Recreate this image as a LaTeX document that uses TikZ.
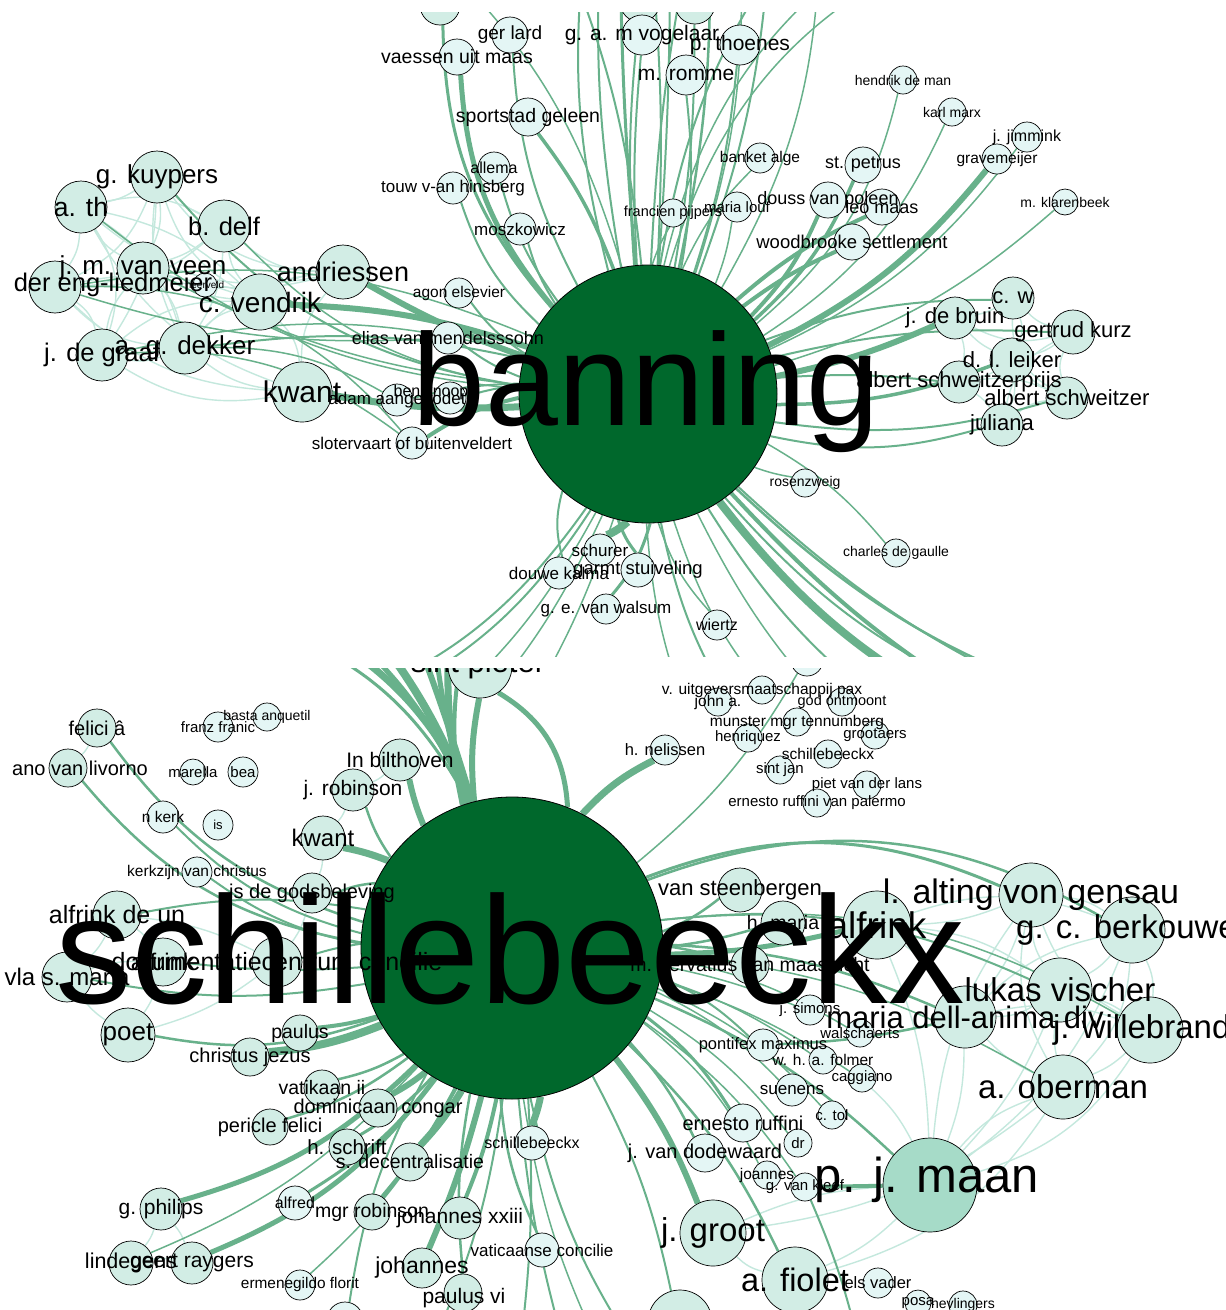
\documentclass[tikz,border=0pt]{standalone}
\usepackage{fontspec}
\setmainfont{Liberation Sans}
\pgfdeclarelayer{edges}
\pgfdeclarelayer{labels}
\pgfsetlayers{edges,main,labels}
\definecolor{hubgreen}{RGB}{0,104,44}
\definecolor{egreen}{RGB}{104,177,139}
\definecolor{lmint}{RGB}{196,232,221}
\definecolor{nA}{RGB}{210,237,229}
\definecolor{nB}{RGB}{228,246,245}
\definecolor{nM}{RGB}{166,219,200}
\makeatletter
\def\lbllist{}
\newcommand\addlbl[1]{\g@addto@macro\lbllist{#1}}
\makeatother
\tikzset{
  vtx/.style={circle,draw=black,line width=0.7pt,inner sep=0pt},
  hub/.style={circle,draw=black,line width=0.8pt,fill=hubgreen,inner sep=0pt},
  lbl/.style={inner sep=0pt,text=black},
  eg/.style={draw=egreen},
  lm/.style={draw=lmint,line width=1.4pt},
}
% name x y r fill fontsize text
\newcommand\V[7]{\node[vtx,fill=#5,minimum size=#4pt*2] (#1) at (#2,#3) {};%
  \addlbl{\node[lbl,font=\fontsize{#6}{#6}\selectfont] (#1-l) at (#1) {#7};}}
% same, label at explicit position
\newcommand\W[9]{\node[vtx,fill=#5,minimum size=#4pt*2] (#1) at (#2,#3) {};%
  \addlbl{\node[lbl,font=\fontsize{#6}{#6}\selectfont] (#1-l) at (#8,#9) {#7};}}
\begin{document}
\begin{tikzpicture}[x=1pt,y=-1pt]
\useasboundingbox (0,0) rectangle (1226,1310);
\begin{pgfonlayer}{edges}
\fill[white] (0,0) rectangle (1226,1310);
\end{pgfonlayer}
%%%%%%%%%%%%%%%%%%%%%%%% TOP PANEL
\begin{scope}
\clip (0,12) rectangle (1226,656);
\node[hub,minimum size=258pt] (B) at (648,394) {};
\V{t1}{440}{5}{20}{nA}{18}{}
\V{t2}{640}{2}{20}{nA}{18}{}
\V{t3}{695}{4}{20}{nA}{18}{}
\V{gerlard}{510}{35}{18}{nB}{19}{ger lard}
\V{vogelaar}{642}{35}{20}{nB}{21}{g. a. m vogelaar}
\V{thoenes}{740}{45}{20}{nB}{21}{p. thoenes}
\V{romme}{686}{75}{20}{nB}{21}{m. romme}
\V{vaessen}{457}{57}{18}{nB}{19.5}{vaessen uit maas}
\V{sportstad}{528}{117}{19}{nB}{19.5}{sportstad geleen}
\V{allema}{494}{168}{16}{nB}{16}{allema}
\V{touw}{453}{188}{16}{nB}{17}{touw v-an hinsberg}
\V{moszk}{520}{229}{16}{nB}{17}{moszkowicz}
\V{agon}{459}{293}{15}{nB}{15.5}{agon elsevier}
\V{banket}{760}{158}{15}{nB}{15.5}{banket alge}
\V{francien}{673}{213}{14}{nB}{14.5}{francien pijpers}
\V{marialouf}{737}{207}{15}{nB}{15}{maria louf}
\V{douss}{828}{200}{18}{nB}{18}{douss van poleen}
\V{leomaas}{882}{207}{18}{nB}{18}{leo maas}
\V{petrus}{863}{165}{18}{nB}{18}{st. petrus}
\V{hendrik}{903}{80}{14}{nB}{14}{hendrik de man}
\V{marx}{952}{112}{14}{nB}{14}{karl marx}
\V{jimmink}{1027}{137}{15}{nB}{16}{j. jimmink}
\V{gravem}{997}{159}{15}{nB}{15.5}{gravemeijer}
\V{klaren}{1065}{202}{13}{nB}{14}{m. klarenbeek}
\V{woodb}{852}{242}{18}{nB}{18.5}{woodbrooke settlement}
\V{cw}{1013}{298}{21}{nA}{22}{c. w}
\V{debruin}{955}{318}{21}{nA}{22}{j. de bruin}
\V{kurz}{1073}{332}{22}{nA}{22}{gertrud kurz}
\V{leiker}{1012}{360}{22}{nA}{22}{d. l. leiker}
\V{prijs}{959}{382}{21}{nA}{22}{albert schweitzerprijs}
\V{schweitzer}{1067}{398}{21}{nA}{22}{albert schweitzer}
\V{juliana}{1002}{425}{21}{nA}{22}{juliana}
\V{rosenzweig}{805}{483}{14}{nB}{14}{rosenzweig}
\V{gaulle}{896}{553}{14}{nB}{14}{charles de gaulle}
\V{schurer}{600}{550}{16}{nB}{17}{schurer}
\V{douwe}{559}{573}{16}{nB}{17}{douwe kalma}
\V{garmt}{638}{570}{17}{nB}{18.5}{garmt stuiveling}
\V{walsum}{606}{609}{15}{nB}{17}{g. e. van walsum}
\V{wiertz}{717}{625}{15}{nB}{16}{wiertz}
\V{elias}{448}{338}{16}{nB}{18}{elias van mendelsssohn}
\W{knoops}{450}{398}{16}{nB}{16}{ben knoops}{435}{392}
\V{adam}{397}{400}{16}{nB}{17}{adam aangebodet}
\V{sloter}{412}{443}{16}{nB}{17}{slotervaart of buitenveldert}
\V{kwant}{302}{392}{30}{nA}{30}{kwant}
\V{dekker}{185}{348}{26}{nA}{26}{a. g. dekker}
\V{degraaf}{102}{355}{26}{nA}{25.5}{j. de graaf}
\W{engl}{55}{287}{26}{nA}{25.5}{der eng-liedmeier}{113}{285}
\V{jmveen}{143}{268}{26}{nA}{26}{j. m. van veen}
\V{veld}{205}{285}{12}{nB}{10}{heerveld}
\V{vendrik}{260}{302}{28}{nA}{28}{c. vendrik}
\V{andriessen}{343}{272}{27}{nA}{27}{andriessen}
\V{bdelf}{224}{226}{26}{nA}{25.5}{b. delf}
\V{ath}{81}{207}{26}{nA}{26.5}{a. th}
\V{kuypers}{157}{177}{26}{nA}{26}{g. kuypers}
\addlbl{\node[lbl,font=\fontsize{131}{131}\selectfont,anchor=base] (B-l) at (646,425) {banning};}
% off-panel ends
\coordinate (ot1) at (560,-60); \coordinate (ot2) at (600,-60); \coordinate (ot3) at (650,-60);
\coordinate (ot4) at (690,-60); \coordinate (ot5) at (740,-60); \coordinate (ot6) at (790,-60);
\coordinate (ot7) at (880,-60); \coordinate (ot8) at (960,-60); \coordinate (ot9) at (420,-60);
\coordinate (ot10) at (620,-60); \coordinate (ot11) at (670,-60); \coordinate (ot12) at (710,-60);
\coordinate (ot13) at (770,-60); \coordinate (ot14) at (820,-60); \coordinate (ot15) at (585,-60);
\coordinate (ob1) at (280,720); \coordinate (ob2) at (330,720); \coordinate (ob3) at (430,720);
\coordinate (ob4) at (470,720); \coordinate (ob5) at (520,720); \coordinate (ob6) at (690,720);
\coordinate (ob7) at (740,720); \coordinate (ob8) at (790,720); \coordinate (ob9) at (840,720);
\coordinate (ob10) at (900,720); \coordinate (ob11) at (980,720); \coordinate (ob12) at (1010,720);
\coordinate (ob13) at (1060,720); \coordinate (ob14) at (1100,720); \coordinate (ob15) at (1150,720);
\end{scope}
\begin{pgfonlayer}{edges}
\begin{scope}
\clip (0,12) rectangle (1226,656);
\foreach \p/\q/\b in {kuypers/ath/10,kuypers/bdelf/-10,kuypers/jmveen/15,kuypers/engl/20,kuypers/degraaf/15,
  kuypers/dekker/-15,kuypers/vendrik/-20,ath/jmveen/-15,ath/engl/15,ath/bdelf/20,ath/degraaf/25,ath/dekker/20,
  ath/vendrik/15,ath/kwant/-20,bdelf/jmveen/10,bdelf/vendrik/-15,bdelf/andriessen/-20,bdelf/engl/20,bdelf/dekker/15,
  jmveen/engl/10,jmveen/degraaf/-15,jmveen/dekker/15,jmveen/vendrik/-10,jmveen/andriessen/-15,engl/degraaf/20,
  engl/dekker/-20,engl/vendrik/15,engl/kwant/-20,degraaf/dekker/-15,degraaf/kwant/-20,degraaf/vendrik/20,
  dekker/kwant/-15,dekker/vendrik/15,dekker/andriessen/20,vendrik/andriessen/15,vendrik/kwant/20,andriessen/kwant/-20,
  veld/jmveen/10,veld/vendrik/10,kuypers/andriessen/-25,ath/andriessen/-25,
  cw/debruin/10,cw/kurz/-15,cw/leiker/20,cw/schweitzer/-30,kurz/leiker/10,kurz/schweitzer/-20,kurz/juliana/-25,
  leiker/prijs/10,leiker/juliana/15,leiker/schweitzer/-10,prijs/schweitzer/15,prijs/juliana/10,schweitzer/juliana/-15,
  debruin/leiker/-10,debruin/kurz/-20,debruin/prijs/15}
  {\draw[lm] (\p) to[bend left=\b] (\q);}
\foreach \n/\w/\b in {t1/3/20,t2/2/5,t3/2/-5,vaessen/5/18,gerlard/2/12,vogelaar/2/4,thoenes/2/-6,romme/2/-8,
  sportstad/3.5/-8,allema/2/10,touw/2/14,moszk/2/8,agon/2/10,banket/1.5/10,francien/1.5/6,marialouf/1.5/-6,
  douss/4/-10,leomaas/4/8,petrus/3.5/-12,woodb/4/6,gravem/6/-12,jimmink/1.5/-14,marx/1.5/-16,hendrik/1.5/-18,
  klaren/1.5/-12,cw/2/10,debruin/6/-6,kurz/2/8,leiker/3.5/-10,prijs/2/5,schweitzer/2/-12,juliana/2/-14,
  rosenzweig/1.5/-5,gaulle/1.5/10,schurer/8/8,douwe/2/-15,garmt/3/-10,walsum/3/12,wiertz/1.5/-12,
  elias/2/8,knoops/2/-5,adam/2/-6,sloter/4/-10,kwant/7/6,andriessen/6/5,vendrik/6/-8,bdelf/1.5/18,
  kuypers/2/20,dekker/2/-10,degraaf/1.5/-14,ath/1.5/16,engl/1.5/-16,jmveen/1.5/10,
  ot1/2/-8,ot2/2/6,ot3/2/-4,ot4/2/4,ot5/1.5/-10,ot6/2/12,ot7/1.5/20,ot8/1.5/25,ot9/1.5/-15,
  ot10/3/2,ot11/2/-2,ot12/2.5/-6,ot13/2/-8,ot14/1.5/-14,ot15/2/10,
  ob1/2/20,ob2/2/18,ob3/1.5/10,ob4/1.5/8,ob5/1.5/6,ob6/1.5/-8,ob7/2/-10,ob8/1.5/-12,ob9/1.5/-8,
  ob10/2/-10,ob11/8/-12,ob12/4/-8,ob13/2/-15,ob14/2/-10,ob15/2.5/-14}
  {\draw[eg,line width=\w*1pt] (B) to[bend left=\b] (\n);}
\foreach \p/\q/\b in {degraaf/sloter/20,engl/sloter/25,dekker/adam/15,engl/elias/-10}
  {\draw[eg,line width=1.5pt] (\p) to[bend left=\b] (\q);}
\end{scope}
\end{pgfonlayer}
\begin{pgfonlayer}{labels}
\begin{scope}
\clip (0,12) rectangle (1226,656);
\lbllist
\end{scope}
\end{pgfonlayer}
\gdef\lbllist{}
%%%%%%%%%%%%%%%%%%%%%%%% BOTTOM PANEL
\begin{scope}
\clip (0,668) rectangle (1226,1310);
\node[hub,minimum size=302pt] (S) at (512,948) {};
\W{spieter}{480}{666}{32}{nA}{31}{sint pieter}{478}{664}
\V{tr1}{807}{660}{16}{nB}{15}{}
\V{pax}{762}{690}{14}{nB}{15.5}{v. uitgeversmaatschappij pax}
\V{johna}{718}{702}{14}{nB}{15.5}{john a.}
\V{god}{842}{702}{14}{nB}{14.5}{god ontmoont}
\V{munster}{797}{722}{14}{nB}{15.5}{munster mgr tennumberg}
\V{henriquez}{748}{738}{14}{nB}{15}{henriquez}
\V{grootaers}{875}{735}{14}{nB}{15}{grootaers}
\V{schsma}{828}{754}{14}{nB}{15.5}{schillebeeckx}
\V{sintjan}{780}{770}{14}{nB}{15}{sint jan}
\V{piet}{867}{785}{14}{nB}{15}{piet van der lans}
\V{ruffpal}{817}{803}{14}{nB}{15}{ernesto ruffini van palermo}
\V{nelissen}{665}{750}{15}{nB}{16.5}{h. nelissen}
\V{bilthoven}{400}{760}{21}{nA}{21}{In bilthoven}
\V{jrobinson}{353}{790}{21}{nA}{21}{j. robinson}
\V{kwantb}{323}{838}{22}{nA}{24}{kwant}
\V{gods}{312}{893}{20}{nA}{20}{is de godsbeleving}
\V{kerkzijn}{197}{872}{15}{nB}{15.5}{kerkzijn van christus}
\V{nkerk}{163}{817}{16}{nB}{15.5}{n kerk}
\V{is}{218}{825}{15}{nB}{13}{is}
\V{marella}{193}{772}{13}{nB}{15}{marella}
\V{bea}{243}{772}{15}{nB}{15}{bea}
\V{franic}{218}{727}{15}{nB}{15}{franz franic}
\V{basta}{267}{717}{14}{nB}{14}{basta anquetil}
\V{felici}{97}{728}{19}{nA}{20}{felici â}
\W{livorno}{68}{768}{19}{nA}{20}{ano van livorno}{80}{768}
\V{alfdeun}{117}{915}{24}{nA}{25}{alfrink de un}
\V{vla}{67}{977}{25}{nA}{24}{vla s. maria}
\V{alfrb}{163}{962}{24}{nA}{24}{alfrink}
\V{doc}{277}{962}{25}{nA}{25}{documentatiecentrum concilie}
\V{poet}{128}{1035}{27}{nA}{26}{poet}
\V{paulus}{300}{1033}{18}{nA}{19.5}{paulus}
\V{christus}{250}{1057}{19}{nA}{20}{christus jezus}
\V{vatikaan}{322}{1088}{18}{nA}{19.5}{vatikaan ii}
\V{congar}{378}{1108}{19}{nA}{20}{dominicaan congar}
\V{pericle}{270}{1127}{18}{nA}{20}{pericle felici}
\V{schrift}{347}{1147}{18}{nA}{20.5}{h. schrift}
\V{decentr}{410}{1162}{19}{nA}{19.5}{s. decentralisatie}
\V{schsmb}{532}{1143}{17}{nB}{16}{schillebeeckx}
\V{philips}{161}{1209}{21}{nA}{21}{g. philips}
\V{alfred}{295}{1203}{17}{nB}{16}{alfred}
\V{mgrrob}{372}{1212}{18}{nA}{19.5}{mgr robinson}
\V{jxxiii}{460}{1218}{21}{nA}{21}{johannes xxiii}
\V{lindeg}{131}{1263}{22}{nA}{21.5}{lindegens}
\V{raygers}{192}{1263}{21}{nA}{21}{geert raygers}
\V{johannes}{422}{1268}{20}{nA}{23}{johannes}
\V{vatconc}{542}{1250}{17}{nB}{17}{vaticaanse concilie}
\V{ermen}{300}{1285}{15}{nB}{15.4}{ermenegildo florit}
\W{paulusvi}{463}{1293}{19}{nA}{21}{paulus vi}{464}{1298}
\V{botone}{345}{1320}{18}{nB}{15}{}
\V{bottwo}{680}{1322}{32}{nA}{30}{}
\V{ruffini}{743}{1123}{19}{nB}{20}{ernesto ruffini}
\V{dodew}{705}{1153}{19}{nB}{20}{j. van dodewaard}
\V{dr}{798}{1143}{14}{nB}{15}{dr}
\V{joannes}{767}{1175}{14}{nB}{15.5}{joannes}
\V{vankleef}{805}{1187}{14}{nB}{15}{g. van kleef}
\V{groot}{713}{1233}{33}{nA}{33}{j. groot}
\V{fiolet}{795}{1280}{33}{nA}{32.5}{a. fiolet}
\V{pontifex}{763}{1045}{16}{nB}{16.5}{pontifex maximus}
\V{folmer}{823}{1060}{14}{nB}{15.5}{w. h. a. folmer}
\V{suenens}{792}{1090}{16}{nB}{17}{suenens}
\V{ctol}{832}{1115}{14}{nB}{15}{c. tol}
\V{caggiano}{862}{1078}{14}{nB}{15}{caggiano}
\V{walsch}{860}{1033}{14}{nB}{15}{walschaerts}
\V{simons}{810}{1010}{15}{nB}{15}{j. simons}
\V{hmaria}{783}{923}{22}{nA}{19.5}{h. maria}
\V{steenb}{740}{890}{22}{nA}{22}{van steenbergen}
\V{servatius}{750}{965}{19}{nA}{19.5}{m. servatius van maastricht}
\V{alfrink}{877}{925}{34}{nA}{37}{alfrink}
\V{alting}{1031}{895}{32}{nA}{34}{l. alting von gensau}
\V{berkouwer}{1132}{930}{33}{nA}{33}{g. c. berkouwer}
\V{dellanima}{965}{1017}{31}{nA}{31}{maria dell-anima div}
\V{vischer}{1060}{990}{32}{nA}{33}{lukas vischer}
\V{willeb}{1150}{1030}{33}{nA}{33}{j. willebrands}
\V{oberman}{1063}{1087}{32}{nA}{33}{a. oberman}
\W{maan}{930}{1185}{47}{nM}{49}{p. j. maan}{927}{1180}
\V{elsvader}{878}{1283}{15}{nB}{16.5}{els vader}
\V{posa}{918}{1303}{13}{nB}{15}{posa}
\V{hevl}{963}{1305}{14}{nB}{14}{hevlingers}
\addlbl{\node[lbl,font=\fontsize{153}{153}\selectfont,anchor=base] (S-l) at (510,1003) {schillebeeckx};}
\coordinate (pt1) at (250,620); \coordinate (pt2) at (300,620); \coordinate (pt3) at (335,620);
\coordinate (pt4) at (365,620); \coordinate (pt5) at (410,620); \coordinate (pt6) at (432,620);
\coordinate (pt7) at (450,620); \coordinate (pt8) at (470,620);
\coordinate (pb1) at (520,1350); \coordinate (pb2) at (565,1350); \coordinate (pb3) at (600,1350);
\coordinate (pb4) at (635,1350); \coordinate (pb5) at (430,1350); \coordinate (pb6) at (860,1350);
\end{scope}
\begin{pgfonlayer}{edges}
\begin{scope}
\clip (0,668) rectangle (1226,1310);
\foreach \p/\q/\b in {alting/berkouwer/15,alting/vischer/-15,alting/willeb/-20,alting/oberman/-20,alting/maan/-15,
  alting/dellanima/10,berkouwer/vischer/10,berkouwer/willeb/15,berkouwer/oberman/20,berkouwer/maan/15,
  berkouwer/dellanima/-15,vischer/willeb/10,vischer/oberman/-10,vischer/maan/10,vischer/dellanima/15,
  willeb/oberman/10,willeb/maan/20,oberman/maan/-15,dellanima/maan/10,dellanima/oberman/-10,dellanima/willeb/15,
  maan/fiolet/10,maan/groot/-10,fiolet/groot/15,alfrink/vischer/15,alfrink/dellanima/10,alfrink/berkouwer/20,
  alfrink/alting/-10,caggiano/maan/10,fiolet/oberman/-20,groot/oberman/-15,alfrink/maan/10,
  felici/livorno/10,alfdeun/doc/10,alfdeun/vla/10,alfdeun/alfrb/10,doc/poet/10,poet/vla/10,poet/alfrb/-10,
  vla/alfrb/10,philips/lindeg/10,philips/raygers/10,lindeg/raygers/10,jrobinson/kwantb/10,kwantb/gods/10,
  bilthoven/jrobinson/10,doc/gods/-10}
  {\draw[lm] (\p) to[bend left=\b] (\q);}
\foreach \n/\w/\b in {spieter/6/8,tr1/1.5/-10,nelissen/7/10,bilthoven/6/5,jrobinson/2.5/8,kwantb/7/-5,
  gods/2.5/-10,kerkzijn/2/12,nkerk/2/15,felici/2.5/18,livorno/2.5/20,alfdeun/2/-10,doc/2/-5,alfrb/2/5,
  vla/2/10,poet/2.5/15,paulus/4/5,christus/8/8,vatikaan/2.5/8,congar/6/5,pericle/2.5/10,schrift/3/8,
  decentr/7/6,philips/5/14,raygers/5/15,lindeg/1.5/12,alfred/3/10,mgrrob/4/6,jxxiii/4/5,johannes/6/4,
  paulusvi/2.5/-8,ermen/1.5/10,vatconc/2.5/-10,schsmb/7/5,steenb/2.5/-8,hmaria/2.5/-5,alfrink/5/-6,
  servatius/2.5/5,pontifex/2/10,walsch/1.5/10,simons/1.5/5,folmer/1.5/8,suenens/1.5/10,ctol/1.5/12,
  caggiano/1.5/8,ruffini/3/10,dodew/2.5/8,dr/1.5/10,joannes/1.5/12,vankleef/1.5/10,groot/6/8,fiolet/2.5/10,
  maan/2.5/10,alting/3/22,berkouwer/2.5/25,vischer/2/15,dellanima/2.5/10,willeb/1.5/18,oberman/1.5/12,
  botone/2/-10,bottwo/2/8,pt1/3/-22,pt2/7/-18,pt3/5/-12,pt4/8/-8,pt5/6/-2,pt6/5/4,pt7/7/8,pt8/4/12,
  pb1/2/5,pb2/2/-5,pb3/1.5/-8,pb4/2/-10,pb5/2/8}
  {\draw[eg,line width=\w*1pt] (S) to[bend left=\b] (\n);}
\draw[eg,line width=5pt] (S) to[bend left=-28] (spieter);
\draw[eg,line width=4pt] (maan) -- (vankleef);
\draw[eg,line width=2.5pt] (pontifex) to[bend left=-5] (dellanima);
\draw[eg,line width=2pt] (vankleef) to[bend left=5] (pb6);
\end{scope}
\end{pgfonlayer}
\begin{pgfonlayer}{labels}
\begin{scope}
\clip (0,668) rectangle (1226,1310);
\lbllist
\end{scope}
\end{pgfonlayer}
\end{tikzpicture}
\end{document}
